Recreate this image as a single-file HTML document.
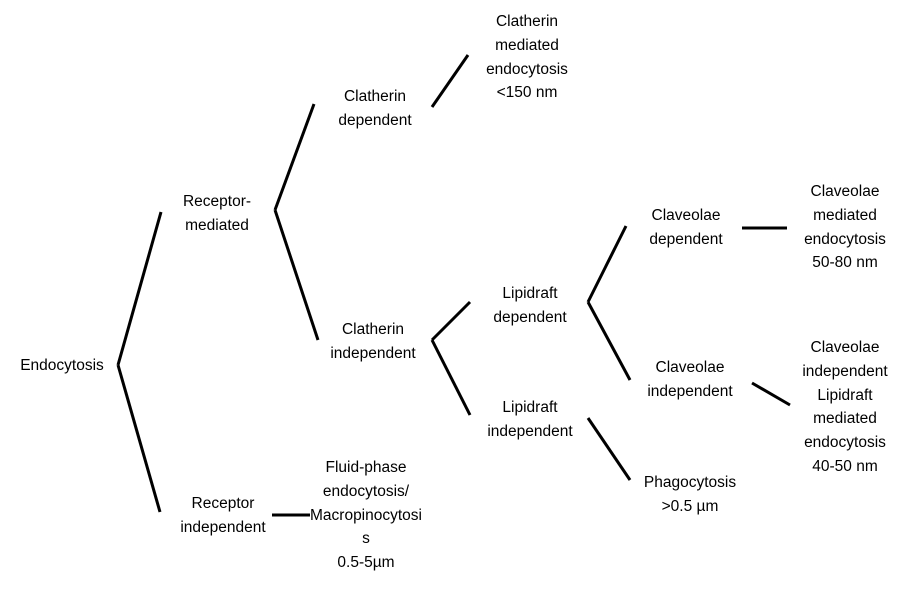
<!DOCTYPE html>
<html><head><meta charset="utf-8"><style>
body{margin:0;width:918px;height:597px;background:#fff;position:relative;overflow:hidden;font-family:"Liberation Sans",Arial,sans-serif;font-size:15.5px;color:#000}
.t{position:absolute;width:200px;margin-left:-100px;text-align:center;line-height:23.8px;white-space:nowrap}
svg{position:absolute;left:0;top:0}
</style></head><body>
<svg width="918" height="597"><g stroke="#000" stroke-width="3" fill="none" stroke-linecap="butt">
<line x1="118" y1="365" x2="161" y2="212"/>
<line x1="118" y1="365" x2="160" y2="512"/>
<line x1="275" y1="210" x2="314" y2="104"/>
<line x1="275" y1="210" x2="318" y2="340"/>
<line x1="432" y1="107" x2="468" y2="55"/>
<line x1="432" y1="340" x2="470" y2="302"/>
<line x1="432" y1="340" x2="470" y2="415"/>
<line x1="588" y1="302" x2="626" y2="226"/>
<line x1="588" y1="302" x2="630" y2="380"/>
<line x1="742" y1="228" x2="787" y2="228"/>
<line x1="752" y1="383" x2="790" y2="405"/>
<line x1="588" y1="418" x2="630" y2="480"/>
<line x1="272" y1="515" x2="310" y2="515"/>
</g></svg>
<div class="t" style="left:62px;top:354px">Endocytosis</div>
<div class="t" style="left:217px;top:190px">Receptor-<br>mediated</div>
<div class="t" style="left:223px;top:492px">Receptor<br>independent</div>
<div class="t" style="left:375px;top:85px">Clatherin<br>dependent</div>
<div class="t" style="left:373px;top:318px">Clatherin<br>independent</div>
<div class="t" style="left:527px;top:10px">Clatherin<br>mediated<br>endocytosis<br>&lt;150 nm</div>
<div class="t" style="left:530px;top:282px">Lipidraft<br>dependent</div>
<div class="t" style="left:530px;top:396px">Lipidraft<br>independent</div>
<div class="t" style="left:686px;top:204px">Claveolae<br>dependent</div>
<div class="t" style="left:690px;top:356px">Claveolae<br>independent</div>
<div class="t" style="left:845px;top:180px">Claveolae<br>mediated<br>endocytosis<br>50-80 nm</div>
<div class="t" style="left:845px;top:336px">Claveolae<br>independent<br>Lipidraft<br>mediated<br>endocytosis<br>40-50 nm</div>
<div class="t" style="left:690px;top:471px">Phagocytosis<br>&gt;0.5 µm</div>
<div class="t" style="left:366px;top:456px">Fluid-phase<br>endocytosis/<br>Macropinocytosi<br>s<br>0.5-5µm</div>
</body></html>
